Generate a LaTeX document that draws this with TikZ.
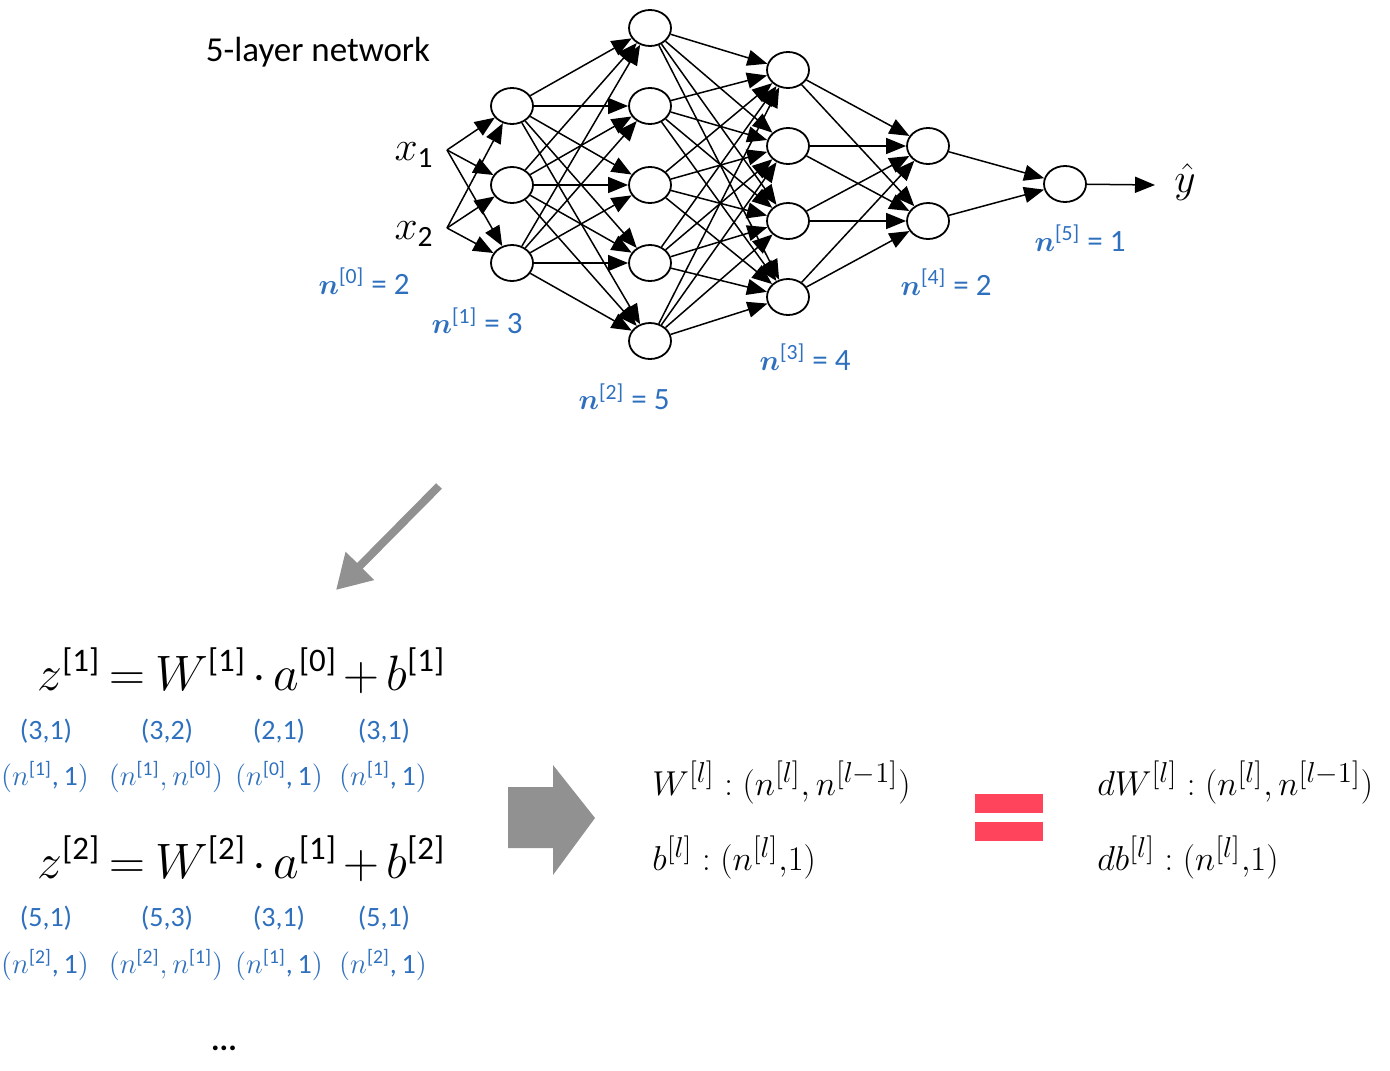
\documentclass[tikz,border=0pt]{standalone}
\usepackage{amsmath}
\usepackage{fontspec}
\setmainfont{Carlito}
\usetikzlibrary{arrows.meta,shapes.geometric}
\definecolor{lblue}{RGB}{46,112,190}
\definecolor{arrgray}{RGB}{145,145,145}
\definecolor{eqred}{RGB}{255,68,92}
\newcommand{\nlab}[2]{$\boldsymbol{n}^{\text{[#1]}}$ = #2}
\newcommand{\dimn}[2]{$(n^{\text{[#1]}}$,\,#2$)$}
\newcommand{\tighteq}{\thickmuskip=3.5mu\relax\medmuskip=2.5mu\relax}
\tikzset{
  neuron/.style={ellipse,draw,line width=0.9pt,minimum width=21pt,minimum height=18pt,inner sep=0pt,fill=white},
  conn/.style={line width=0.75pt,-{Triangle[length=10pt,width=8pt]}},
  nlabel/.style={text=lblue,font=\fontsize{15.5}{18}\selectfont,inner sep=0pt},
  dimlab/.style={text=lblue,font=\fontsize{14}{16}\selectfont,inner sep=0pt},
  bigeq/.style={font=\fontsize{23.5}{27}\selectfont,inner sep=0pt,anchor=base west},
  rightf/.style={font=\fontsize{19}{22}\selectfont,inner sep=0pt,anchor=base west}
}
\begin{document}
\begin{tikzpicture}[x=0.5pt,y=-0.5pt]
\useasboundingbox (0,0) rectangle (1390,1070);
% title
\node[font=\fontsize{17.5}{20}\selectfont,inner sep=0pt] (title) at (318,52) {5-layer network};
% inputs
\node[font=\fontsize{21}{24}\selectfont,inner sep=0pt] (x1) at (414,155) {$x_{\text{1}}$};
\node[font=\fontsize{21}{24}\selectfont,inner sep=0pt] (x2) at (414,234) {$x_{\text{2}}$};
\coordinate (in1) at (447,150);
\coordinate (in2) at (447,228);
% layers
\foreach \i/\y in {1/106,2/185,3/263} \node[neuron] (a\i) at (512,\y) {};
\foreach \i/\y in {1/28,2/106,3/185,4/263,5/341} \node[neuron] (b\i) at (650,\y) {};
\foreach \i/\y in {1/70,2/146,3/221,4/297} \node[neuron] (c\i) at (788,\y) {};
\foreach \i/\y in {1/146,2/221} \node[neuron] (d\i) at (928,\y) {};
\node[neuron] (e1) at (1065,184) {};
\coordinate (yend) at (1155,185);
\node[font=\fontsize{21}{24}\selectfont,inner sep=0pt] (yhat) at (1185,182) {$\hat{y}$};
% connections
\foreach \i in {1,2,3} {\draw[conn] (in1) -- (a\i); \draw[conn] (in2) -- (a\i);}
\foreach \i in {1,2,3} \foreach \j in {1,...,5} \draw[conn] (a\i) -- (b\j);
\foreach \i in {1,...,5} \foreach \j in {1,...,4} \draw[conn] (b\i) -- (c\j);
\foreach \i in {1,...,4} \foreach \j in {1,2} \draw[conn] (c\i) -- (d\j);
\foreach \i in {1,2} \draw[conn] (d\i) -- (e1);
\draw[line width=0.75pt,-{Triangle[length=10pt,width=8pt]}] (e1) -- (yend);
% layer size labels
\node[nlabel] (l0) at (364,281) {\nlab{0}{2}};
\node[nlabel] (l1) at (477,321) {\nlab{1}{3}};
\node[nlabel] (l2) at (624,397) {\nlab{2}{5}};
\node[nlabel] (l3) at (805,357) {\nlab{3}{4}};
\node[nlabel] (l4) at (946,282) {\nlab{4}{2}};
\node[nlabel] (l5) at (1080,238) {\nlab{5}{1}};
% gray diagonal arrow
\coordinate (ga) at (439,486);
\coordinate (gb) at (336,590);
\draw[arrgray,line width=4pt,-{Triangle[length=17pt,width=19pt]}] (ga) -- (gb);
% equations
\node[bigeq] (eq1) at (37,690) {$\tighteq z^{\text{[1]}} = W^{\text{[1]}}\cdot a^{\text{[0]}} + b^{\text{[1]}}$};
\node[dimlab] (d11) at (46,731) {(3,1)};
\node[dimlab] (d12) at (167,731) {(3,2)};
\node[dimlab] (d13) at (279,731) {(2,1)};
\node[dimlab] (d14) at (384,731) {(3,1)};
\node[dimlab] (e11) at (45,777) {\dimn{1}{1}};
\node[dimlab] (e12) at (166,777) {$(n^{\text{[1]}},n^{\text{[0]}})$};
\node[dimlab] (e13) at (279,777) {\dimn{0}{1}};
\node[dimlab] (e14) at (383,777) {\dimn{1}{1}};
\node[bigeq] (eq2) at (37,878) {$\tighteq z^{\text{[2]}} = W^{\text{[2]}}\cdot a^{\text{[1]}} + b^{\text{[2]}}$};
\node[dimlab] (d21) at (46,918) {(5,1)};
\node[dimlab] (d22) at (167,918) {(5,3)};
\node[dimlab] (d23) at (279,918) {(3,1)};
\node[dimlab] (d24) at (384,918) {(5,1)};
\node[dimlab] (e21) at (45,965) {\dimn{2}{1}};
\node[dimlab] (e22) at (166,965) {$(n^{\text{[2]}},n^{\text{[1]}})$};
\node[dimlab] (e23) at (279,965) {\dimn{1}{1}};
\node[dimlab] (e24) at (383,965) {\dimn{2}{1}};
\node[font=\fontsize{16}{18}\selectfont\bfseries,inner sep=0pt] (dots) at (224,1048) {...};
% block arrow
\fill[arrgray] (508,787) -- (553,787) -- (553,765) -- (595,818) -- (553,875) -- (553,848) -- (508,848) -- cycle;
% right formulas
\node[rightf] (w1) at (652,795) {$W^{[l]}:(n^{[l]},n^{[l-1]})$};
\node[rightf] (b1) at (652,870) {$b^{[l]}:(n^{[l]}{,}1)$};
\fill[eqred] (975,794) rectangle (1043,813);
\fill[eqred] (975,822) rectangle (1043,841);
\node[rightf] (w2) at (1097,795) {$dW^{[l]}:(n^{[l]},n^{[l-1]})$};
\node[rightf] (b2) at (1097,870) {$db^{[l]}:(n^{[l]}{,}1)$};
\end{tikzpicture}
\end{document}
